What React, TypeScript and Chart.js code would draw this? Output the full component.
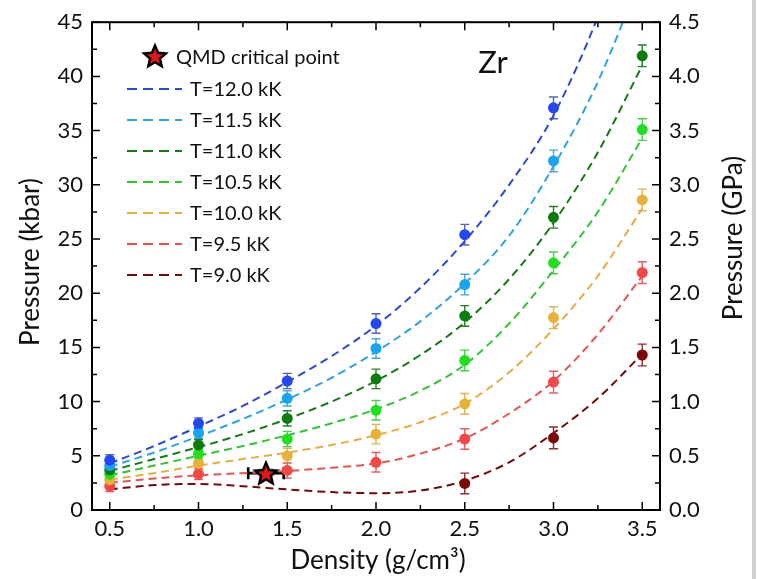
import React, { useEffect, useRef } from 'react';
import { Chart, registerables } from 'chart.js';
Chart.register(...registerables);

// ---- data (pressure in kbar) ----
const densities = [0.5, 1.0, 1.5, 2.0, 2.5, 3.0, 3.5];
const seriesLabels = ['T=12.0 kK', 'T=11.5 kK', 'T=11.0 kK', 'T=10.5 kK', 'T=10.0 kK', 'T=9.5 kK', 'T=9.0 kK'];
const p12_0 = [4.6, 8.0, 11.9, 17.2, 25.4, 37.1, null];
const p11_5 = [4.1, 7.1, 10.3, 14.9, 20.8, 32.2, null];
const p11_0 = [3.7, 6.0, 8.45, 12.1, 17.9, 27.0, 41.9];
const p10_5 = [3.3, 5.2, 6.55, 9.2, 13.8, 22.8, 35.1];
const p10_0 = [2.8, 4.3, 5.0, 7.0, 9.8, 17.75, 28.6];
const p9_5 = [2.2, 3.3, 3.65, 4.4, 6.55, 11.8, 21.9];
const p9_0 = [null, null, null, null, 2.45, 6.65, 14.3];
const pErr = [0.5, 0.5, 0.7, 0.9, 0.95, 1.0, 1.0];

const fitDensities = [0.5, 0.75, 1.0, 1.25, 1.5, 1.75, 2.0, 2.25, 2.5, 2.75, 3.0, 3.25, 3.5];
const fit12_0 = [4.3, 5.9, 7.7, 9.6, 11.8, 14.2, 17.0, 20.5, 24.8, 30.0, 36.4, 45.5, 57.0];
const fit11_5 = [4.0, 5.3, 6.8, 8.4, 10.2, 12.2, 14.6, 17.4, 20.9, 25.3, 31.7, 39.5, 49.5];
const fit11_0 = [3.6, 4.7, 5.8, 7.0, 8.4, 10.0, 11.9, 14.3, 17.3, 21.3, 26.5, 33.0, 41.0];
const fit10_5 = [3.2, 4.1, 5.0, 5.9, 6.9, 8.0, 9.3, 11.0, 13.4, 17.2, 22.1, 27.5, 34.3];
const fit10_0 = [2.8, 3.4, 4.1, 4.7, 5.3, 6.0, 6.9, 8.1, 9.8, 12.7, 16.7, 21.6, 27.8];
const fit9_5 = [2.5, 2.9, 3.2, 3.4, 3.6, 3.9, 4.3, 5.2, 6.6, 8.9, 11.9, 16.2, 21.6];
const fit9_0 = [1.9, 2.3, 2.4, 2.2, 1.9, 1.65, 1.55, 1.8, 2.7, 4.4, 7.1, 10.3, 14.4];

const criticalDensity = 1.38;
const criticalPressure = 3.4;
const criticalDensityErr = 0.1;

const xTicks = [0.5, 1.0, 1.5, 2.0, 2.5, 3.0, 3.5];
const xMinor = [0.75, 1.25, 1.75, 2.25, 2.75, 3.25];
const yTicks = [0, 5, 10, 15, 20, 25, 30, 35, 40, 45];
const yMinor = [2.5, 7.5, 12.5, 17.5, 22.5, 27.5, 32.5, 37.5, 42.5];
const y2Ticks = [0, 0.5, 1.0, 1.5, 2.0, 2.5, 3.0, 3.5, 4.0, 4.5];

const pointColors = ['#2447f2', '#18a4f0', '#0c7d0c', '#1ee01e', '#e8b23a', '#f24848', '#7d0606'];
const lineColors = ['#2f48d0', '#2ea2e2', '#147a14', '#33c433', '#e3af45', '#e25555', '#6e0d0d'];
const errColors = ['#5563b5', '#4aa6d8', '#2c7b2c', '#4bcf4b', '#dcb45a', '#e06060', '#8a3030'];

const points = [p12_0, p11_5, p11_0, p10_5, p10_0, p9_5, p9_0];
const fits = [fit12_0, fit11_5, fit11_0, fit10_5, fit10_0, fit9_5, fit9_0];

const FONT = 'Lato, "Open Sans", sans-serif';

function starPath(ctx: CanvasRenderingContext2D, cx: number, cy: number, R: number, r: number) {
  ctx.beginPath();
  for (let i = 0; i < 10; i++) {
    const rad = i % 2 === 0 ? R : r;
    const a = -Math.PI / 2 + (i * Math.PI) / 5;
    const x = cx + rad * Math.cos(a);
    const y = cy + rad * Math.sin(a);
    if (i === 0) ctx.moveTo(x, y); else ctx.lineTo(x, y);
  }
  ctx.closePath();
}

function drawStar(ctx: CanvasRenderingContext2D, cx: number, cy: number) {
  ctx.save();
  starPath(ctx, cx, cy, 11.5, 5.2);
  ctx.fillStyle = '#e01818';
  ctx.fill();
  ctx.lineWidth = 2.4;
  ctx.strokeStyle = '#000';
  ctx.lineJoin = 'miter';
  ctx.stroke();
  ctx.restore();
}

function makeStarImage() {
  const c = document.createElement('canvas');
  c.width = 30; c.height = 30;
  const ctx = c.getContext('2d')!;
  drawStar(ctx, 15, 16);
  return c;
}

const decorPlugin = {
  id: 'decor',
  beforeDatasetsDraw(chart: any) {
    const ctx: CanvasRenderingContext2D = chart.ctx;
    const xs = chart.scales.x;
    const ys = chart.scales.y;
    ctx.save();
    points.forEach((arr, si) => {
      ctx.strokeStyle = errColors[si];
      ctx.lineWidth = 1.4;
      arr.forEach((v, j) => {
        if (v == null) return;
        const x = xs.getPixelForValue(densities[j]);
        const y1 = ys.getPixelForValue(v - pErr[j]);
        const y2 = ys.getPixelForValue(v + pErr[j]);
        ctx.beginPath();
        ctx.moveTo(x, y1); ctx.lineTo(x, y2);
        ctx.moveTo(x - 4.5, y1); ctx.lineTo(x + 4.5, y1);
        ctx.moveTo(x - 4.5, y2); ctx.lineTo(x + 4.5, y2);
        ctx.stroke();
      });
    });
    const cy = ys.getPixelForValue(criticalPressure);
    const cx1 = xs.getPixelForValue(criticalDensity - criticalDensityErr);
    const cx2 = xs.getPixelForValue(criticalDensity + criticalDensityErr);
    ctx.strokeStyle = '#000';
    ctx.lineWidth = 2.6;
    ctx.beginPath();
    ctx.moveTo(cx1, cy); ctx.lineTo(cx2, cy);
    ctx.moveTo(cx1, cy - 6); ctx.lineTo(cx1, cy + 6);
    ctx.moveTo(cx2, cy - 6); ctx.lineTo(cx2, cy + 6);
    ctx.stroke();
    ctx.restore();
  },
  afterDraw(chart: any) {
    const ctx: CanvasRenderingContext2D = chart.ctx;
    const { left, right, top, bottom } = chart.chartArea;
    const xs = chart.scales.x;
    const ys = chart.scales.y;
    ctx.save();
    ctx.strokeStyle = '#000';
    ctx.lineWidth = 2;
    ctx.strokeRect(left, top, right - left, bottom - top);
    ctx.lineWidth = 1.5;
    ctx.beginPath();
    const tickX = (v: number, len: number) => {
      const x = xs.getPixelForValue(v);
      ctx.moveTo(x, bottom); ctx.lineTo(x, bottom - len);
      ctx.moveTo(x, top); ctx.lineTo(x, top + len);
    };
    const tickY = (v: number, len: number) => {
      const y = ys.getPixelForValue(v);
      ctx.moveTo(left, y); ctx.lineTo(left + len, y);
      ctx.moveTo(right, y); ctx.lineTo(right - len, y);
    };
    xTicks.forEach(v => tickX(v, 8));
    xMinor.forEach(v => tickX(v, 5));
    yTicks.forEach(v => tickY(v, 8));
    yMinor.forEach(v => tickY(v, 5));
    ctx.stroke();

    // axis titles
    ctx.fillStyle = '#111';
    ctx.font = `26px ${FONT}`;
    ctx.textAlign = 'center';
    ctx.textBaseline = 'middle';
    ctx.fillText('Density (g/cm³)', 378, 561);
    ctx.save();
    ctx.translate(31, 262);
    ctx.rotate(-Math.PI / 2);
    ctx.fillText('Pressure (kbar)', 0, 0);
    ctx.restore();
    ctx.save();
    ctx.translate(734, 238);
    ctx.rotate(-Math.PI / 2);
    ctx.fillText('Pressure (GPa)', 0, 0);
    ctx.restore();

    // Zr label
    ctx.font = `31px ${FONT}`;
    ctx.fillText('Zr', 493, 63);

    // legend
    ctx.font = `20px ${FONT}`;
    ctx.textAlign = 'left';
    drawStar(ctx, 155, 57);
    ctx.fillStyle = '#111';
    ctx.fillText('QMD critical point', 176, 58);
    seriesLabels.forEach((lab, i) => {
      const y = 89 + i * 31;
      ctx.save();
      ctx.strokeStyle = lineColors[i];
      ctx.lineWidth = 2.2;
      ctx.setLineDash([10, 6]);
      ctx.beginPath();
      ctx.moveTo(127, y); ctx.lineTo(182, y);
      ctx.stroke();
      ctx.restore();
      ctx.fillStyle = '#111';
      ctx.fillText(lab, 190, y + 1);
    });
    ctx.restore();
  },
};

export default function App() {
  const ref = useRef<HTMLCanvasElement>(null);
  useEffect(() => {
    document.body.style.margin = '0';
    const canvas = ref.current!;
    const starImg = makeStarImage();
    const datasets: any[] = [];
    fits.forEach((f, i) => {
      datasets.push({
        label: seriesLabels[i] + ' fit',
        data: fitDensities.map((x, j) => ({ x, y: f[j] })),
        borderColor: lineColors[i],
        borderWidth: 2,
        borderDash: [8, 5],
        pointRadius: 0,
        cubicInterpolationMode: 'monotone',
        fill: false,
        order: 3,
      });
    });
    points.forEach((arr, i) => {
      datasets.push({
        label: seriesLabels[i],
        data: densities.map((x, j) => ({ x, y: arr[j] })).filter(p => p.y != null),
        showLine: false,
        backgroundColor: pointColors[i],
        borderColor: pointColors[i],
        borderWidth: 0,
        pointRadius: 5.5,
        order: 2,
      });
    });
    datasets.push({
      label: 'QMD critical point',
      data: [{ x: criticalDensity, y: criticalPressure }],
      showLine: false,
      pointStyle: starImg,
      pointRadius: 12,
      order: 1,
    });

    const tickFont = { family: FONT, size: 22 };
    const chart = new Chart(canvas, {
      type: 'line',
      data: { datasets },
      options: {
        responsive: false,
        animation: false,
        layout: { padding: { top: 18, left: 0, right: 0, bottom: 0 } },
        plugins: { legend: { display: false }, tooltip: { enabled: false } },
        scales: {
          x: {
            type: 'linear',
            min: 0.4,
            max: 3.6,
            grid: { display: false, drawTicks: false },
            border: { display: false },
            ticks: { font: tickFont, color: '#111', padding: 6, callback: (v: any) => Number(v).toFixed(1) },
            afterBuildTicks: (s: any) => { s.ticks = xTicks.map(v => ({ value: v })); },
            afterFit: (s: any) => { s.height = 69; },
          },
          y: {
            type: 'linear',
            position: 'left',
            min: 0,
            max: 45,
            grid: { display: false, drawTicks: false },
            border: { display: false },
            ticks: { font: tickFont, color: '#111', padding: 9, callback: (v: any) => String(v) },
            afterBuildTicks: (s: any) => { s.ticks = yTicks.map(v => ({ value: v })); },
            afterFit: (s: any) => { s.width = 92; },
          },
          y2: {
            type: 'linear',
            position: 'right',
            min: 0,
            max: 4.5,
            grid: { display: false, drawTicks: false },
            border: { display: false },
            ticks: { font: tickFont, color: '#111', padding: 9, callback: (v: any) => Number(v).toFixed(1) },
            afterBuildTicks: (s: any) => { s.ticks = y2Ticks.map(v => ({ value: v })); },
            afterFit: (s: any) => { s.width = 97; },
          },
        },
      } as any,
      plugins: [decorPlugin],
    });
    return () => chart.destroy();
  }, []);

  return (
    <div style={{ position: 'fixed', left: 0, top: 0, width: 757, height: 579, background: '#fff' }}>
      <canvas ref={ref} width={757} height={579} style={{ display: 'block' }} />
      <div style={{ position: 'absolute', left: 752, top: 0, width: 4, height: 579, background: '#cfcfcf' }} />
    </div>
  );
}
